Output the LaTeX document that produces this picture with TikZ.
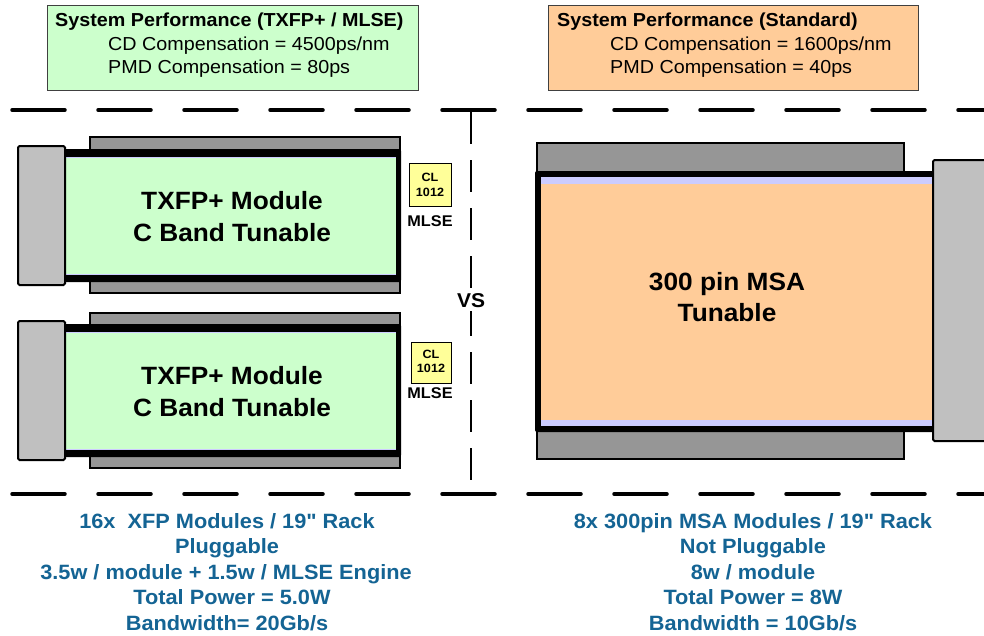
\documentclass[tikz,border=0pt]{standalone}
\usepackage{fontspec}
\setmainfont{Liberation Sans}[FakeStretch=1.05, Ligatures=TeXOff]
\definecolor{boxgreen}{HTML}{CCFFCC}
\definecolor{boxorange}{HTML}{FFCC99}
\definecolor{bargray}{HTML}{969696}
\definecolor{capgray}{HTML}{C0C0C0}
\definecolor{lav}{HTML}{CCCCFF}
\definecolor{chipyellow}{HTML}{FFFF99}
\definecolor{txtblue}{RGB}{20,100,148}
\tikzset{
  infobox/.style={draw=black!75, line width=1pt},
  barbox/.style={draw=black, line width=1.5pt, fill=bargray},
  capbox/.style={draw=black, line width=2pt, fill=capgray, rounded corners=1.5pt},
  frame/.style={fill=black, rounded corners=2pt},
  chipbox/.style={draw=black, line width=1pt, fill=chipyellow},
  hdash/.style={line width=3.5pt, line cap=round, dash pattern=on 53pt off 33pt},
  vdash/.style={line width=1.8pt, dash pattern=on 32pt off 16pt},
  t/.style={inner sep=0pt, anchor=base},
  tw/.style={inner sep=0pt, anchor=base west},
  hdr/.style={font=\fontsize{18.8}{22}\selectfont\bfseries},
  sub/.style={font=\fontsize{18.8}{22}\selectfont},
  big/.style={font=\fontsize{25}{30}\selectfont\bfseries},
  chip/.style={font=\fontsize{12}{14}\selectfont\bfseries},
  mlse/.style={font=\fontsize{15.5}{18}\selectfont\bfseries},
  btm/.style={font=\fontsize{20.7}{25}\selectfont\bfseries, text=txtblue},
}
\begin{document}
\begin{tikzpicture}[x=1pt,y=-1pt]
\useasboundingbox (0,0) rectangle (984,635);
\fill[white] (0,0) rectangle (984,635);

% top info boxes
\draw[infobox, fill=boxgreen] (47,5) rectangle (418,90);
\node[tw,hdr] (h1) at (55,26) {System Performance (TXFP+ / MLSE)};
\node[tw,sub] (h1a) at (108,50) {CD Compensation = 4500ps/nm};
\node[tw,sub] (h1b) at (108,73) {PMD Compensation = 80ps};

\draw[infobox, fill=boxorange] (548,5) rectangle (918,90);
\node[tw,hdr] (h2) at (557,26) {System Performance (Standard)};
\node[tw,sub] (h2a) at (610,50) {CD Compensation = 1600ps/nm};
\node[tw,sub] (h2b) at (610,73) {PMD Compensation = 40ps};

% dashed separators
\draw[hdash] (12,110) -- (984,110);
\draw[hdash] (12,494) -- (984,494);
\draw[vdash] (471,112) -- (471,494);

% left module 1
\draw[barbox] (90,137) rectangle (400,293);
\fill[frame] (62,149) rectangle (401,282);
\fill[boxgreen] (66,157) rectangle (396,275);
\draw[lav, line width=1pt] (66,157.5) -- (396,157.5);
\draw[lav, line width=1pt] (66,274.5) -- (396,274.5);
\draw[capbox] (18,146) rectangle (65,285);
\node[t,big] (m1a) at (232,209) {TXFP+ Module};
\node[t,big] (m1b) at (232,241) {C Band Tunable};

% left module 2
\draw[barbox] (90,313) rectangle (400,468);
\fill[frame] (62,324) rectangle (401,457);
\fill[boxgreen] (66,332) rectangle (396,450);
\draw[lav, line width=1pt] (66,332.5) -- (396,332.5);
\draw[lav, line width=1pt] (66,449.5) -- (396,449.5);
\draw[capbox] (18,321) rectangle (65,460);
\node[t,big] (m2a) at (232,384) {TXFP+ Module};
\node[t,big] (m2b) at (232,416) {C Band Tunable};

% chips
\draw[chipbox] (409,163) rectangle (451,206);
\node[t,chip] (c1a) at (430,181) {CL};
\node[t,chip] (c1b) at (430,196) {1012};
\node[t,mlse] (c1m) at (430,226) {MLSE};
\draw[chipbox] (411,342) rectangle (451,383);
\node[t,chip] (c2a) at (431,358) {CL};
\node[t,chip] (c2b) at (431,372) {1012};
\node[t,mlse] (c2m) at (430,398) {MLSE};

% VS
\node[fill=white, inner sep=3pt, font=\fontsize{20}{24}\selectfont\bfseries] (vs) at (471,300.5) {VS};

% right module
\draw[barbox] (537,143) rectangle (904,459);
\fill[frame] (535,171) rectangle (936,432);
\fill[boxorange] (541,177) rectangle (933,426);
\fill[lav] (541,177) rectangle (933,184);
\fill[lav] (541,420) rectangle (933,426);
\draw[capbox] (933,160) rectangle (990,441);
\node[t,big] (r1) at (727,290) {300 pin MSA};
\node[t,big] (r2) at (727,321) {Tunable};

% bottom texts
\node[t,btm] (b1) at (227,528) {16x\ \ XFP Modules / 19" Rack};
\node[t,btm] (b2) at (227,553.5) {Pluggable};
\node[t,btm] (b3) at (226,579) {3.5w / module + 1.5w / MLSE Engine};
\node[t,btm] (b4) at (232,604.5) {Total Power = 5.0W};
\node[t,btm] (b5) at (227,630) {Bandwidth= 20Gb/s};

\node[t,btm] (d1) at (753,528) {8x 300pin MSA Modules / 19" Rack};
\node[t,btm] (d2) at (753,553.5) {Not Pluggable};
\node[t,btm] (d3) at (753,579) {8w / module};
\node[t,btm] (d4) at (753,604.5) {Total Power = 8W};
\node[t,btm] (d5) at (753,630) {Bandwidth = 10Gb/s};
\end{tikzpicture}
\end{document}
